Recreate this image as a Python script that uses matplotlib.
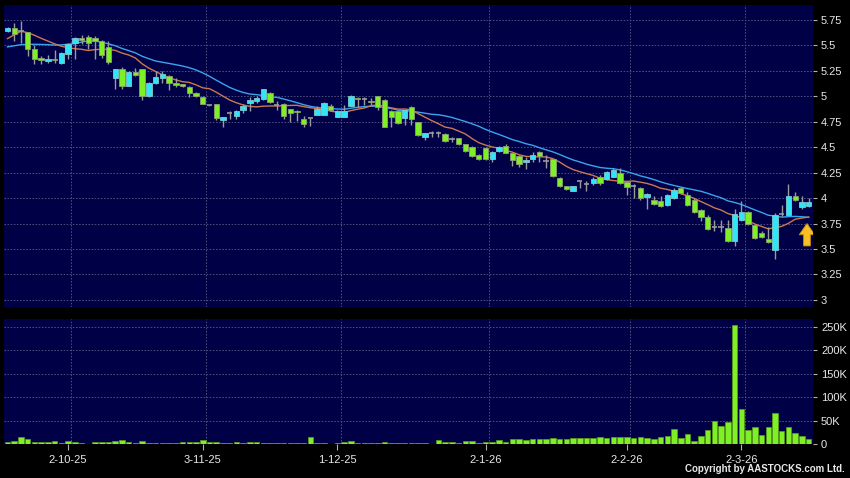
import numpy as np
import pandas as pd
import matplotlib
matplotlib.use("Agg")
import matplotlib.pyplot as plt

plt.rcParams['font.family'] = ['Liberation Sans', 'DejaVu Sans']

# Daily candles (120 trading days)
open_ = [5.64, 5.67, 5.64, 5.63, 5.46, 5.375, 5.35, 5.37, 5.33, 5.42,
         5.52, 5.57, 5.58, 5.575, 5.54, 5.48, 5.18, 5.27, 5.10, 5.24,
         5.27, 5.00, 5.13, 5.18, 5.20, 5.13, 5.12, 5.09, 5.03, 4.99,
         4.91, 4.92, 4.77, 4.84, 4.81, 4.87, 4.93, 4.955, 4.97, 5.03,
         4.91, 4.92, 4.875, 4.86, 4.78, 4.79, 4.82, 4.82, 4.90, 4.80,
         4.80, 4.90, 4.98, 4.975, 4.955, 5.00, 4.96, 4.86, 4.86, 4.79,
         4.89, 4.75, 4.60, 4.635, 4.635, 4.63, 4.58, 4.59, 4.53, 4.50,
         4.42, 4.49, 4.385, 4.46, 4.515, 4.44, 4.41, 4.35, 4.38, 4.45,
         4.36, 4.38, 4.20, 4.12, 4.07, 4.165, 4.14, 4.145, 4.21, 4.19,
         4.21, 4.25, 4.155, 4.12, 4.10, 4.01, 3.985, 3.97, 3.93, 4.00,
         4.10, 4.03, 3.985, 3.88, 3.81, 3.72, 3.72, 3.71, 3.575, 3.78,
         3.86, 3.74, 3.66, 3.60, 3.49, 3.84, 3.83, 4.02, 3.91, 3.92]
high = [5.68, 5.72, 5.74, 5.63, 5.50, 5.40, 5.41, 5.45, 5.44, 5.52,
        5.58, 5.60, 5.60, 5.59, 5.55, 5.54, 5.27, 5.29, 5.25, 5.28,
        5.27, 5.14, 5.25, 5.25, 5.21, 5.18, 5.12, 5.10, 5.04, 5.00,
        4.91, 4.92, 4.80, 4.86, 4.87, 4.92, 4.99, 5.00, 5.07, 5.04,
        4.95, 4.93, 4.88, 4.87, 4.81, 4.79, 4.90, 4.94, 4.92, 4.87,
        4.91, 5.01, 4.99, 4.99, 4.98, 5.00, 4.97, 4.87, 4.87, 4.87,
        4.90, 4.75, 4.64, 4.66, 4.66, 4.64, 4.60, 4.59, 4.53, 4.51,
        4.43, 4.50, 4.46, 4.51, 4.53, 4.44, 4.42, 4.40, 4.45, 4.46,
        4.42, 4.38, 4.21, 4.12, 4.12, 4.17, 4.17, 4.21, 4.23, 4.27,
        4.30, 4.30, 4.16, 4.14, 4.11, 4.05, 4.02, 4.02, 4.04, 4.10,
        4.11, 4.06, 4.00, 3.89, 3.83, 3.78, 3.78, 3.78, 3.89, 3.97,
        3.87, 3.75, 3.68, 3.72, 3.85, 3.93, 4.14, 4.06, 4.02, 4.00]
low = [5.63, 5.54, 5.52, 5.40, 5.32, 5.32, 5.33, 5.33, 5.32, 5.37,
       5.37, 5.51, 5.46, 5.37, 5.38, 5.32, 5.07, 5.07, 5.10, 5.20,
       4.96, 4.99, 5.12, 5.13, 5.06, 5.09, 5.09, 4.99, 4.99, 4.92,
       4.90, 4.77, 4.70, 4.78, 4.78, 4.84, 4.86, 4.93, 4.96, 4.93,
       4.87, 4.78, 4.75, 4.76, 4.70, 4.71, 4.82, 4.82, 4.86, 4.80,
       4.80, 4.90, 4.89, 4.91, 4.91, 4.87, 4.70, 4.70, 4.73, 4.72,
       4.72, 4.61, 4.57, 4.60, 4.60, 4.55, 4.55, 4.52, 4.45, 4.40,
       4.37, 4.37, 4.35, 4.45, 4.44, 4.32, 4.31, 4.29, 4.35, 4.35,
       4.30, 4.21, 4.11, 4.08, 4.07, 4.10, 4.07, 4.13, 4.13, 4.18,
       4.21, 4.14, 4.03, 4.00, 3.98, 3.89, 3.93, 3.91, 3.92, 3.99,
       4.04, 3.92, 3.85, 3.77, 3.69, 3.68, 3.67, 3.57, 3.53, 3.77,
       3.74, 3.60, 3.61, 3.56, 3.40, 3.82, 3.83, 3.97, 3.89, 3.91]
close = [5.67, 5.61, 5.64, 5.46, 5.37, 5.355, 5.37, 5.36, 5.43, 5.51,
         5.57, 5.555, 5.52, 5.545, 5.41, 5.34, 5.27, 5.10, 5.24, 5.21,
         5.00, 5.13, 5.19, 5.22, 5.13, 5.115, 5.10, 5.03, 5.00, 4.92,
         4.91, 4.79, 4.80, 4.84, 4.86, 4.90, 4.96, 4.98, 5.07, 4.94,
         4.91, 4.81, 4.835, 4.85, 4.73, 4.79, 4.875, 4.93, 4.865, 4.86,
         4.86, 5.00, 4.97, 4.975, 4.945, 4.89, 4.70, 4.80, 4.74, 4.87,
         4.78, 4.62, 4.635, 4.635, 4.635, 4.56, 4.58, 4.53, 4.46, 4.41,
         4.38, 4.38, 4.455, 4.505, 4.44, 4.37, 4.33, 4.37, 4.42, 4.41,
         4.36, 4.22, 4.12, 4.085, 4.115, 4.165, 4.14, 4.19, 4.15, 4.26,
         4.28, 4.15, 4.11, 4.12, 4.00, 4.04, 3.94, 3.92, 4.03, 4.08,
         4.05, 3.93, 3.86, 3.81, 3.70, 3.72, 3.72, 3.58, 3.845, 3.86,
         3.75, 3.61, 3.62, 3.57, 3.83, 3.84, 4.02, 3.98, 3.96, 3.96]
# closes before the visible window, used only to seed the moving averages
prior_close = [5.38, 5.42, 5.40, 5.36, 5.39, 5.41, 5.43, 5.40, 5.38, 5.46,
               5.24, 5.29, 5.60, 5.62, 5.66, 5.64, 5.63, 5.67, 5.65]
volume_k = [5, 6.5, 14, 11.5, 5, 5, 3.5, 7, 2, 6.5,
            3.5, 2, 1, 5, 5, 5, 6.5, 8.5, 4.5, 1.5,
            7, 3, 3, 3, 3, 3, 4.5, 4.5, 4.5, 8.5,
            3.5, 4.5, 3, 3, 4.5, 3, 3.5, 3.5, 3, 3,
            3, 3, 2, 2, 2, 15.7, 3, 2, 1, 1.5,
            3.5, 7, 2.5, 1.5, 1.5, 2, 4.5, 2, 2, 3,
            3, 2, 1.5, 1, 7.9, 3.6, 3.6, 1.4, 5.7, 6.4,
            2, 5, 5, 8.6, 4.3, 10, 10, 9.3, 11.4, 11.4,
            11.4, 12.9, 10.7, 11.4, 12, 12, 13, 13, 15.7, 13.6,
            14.3, 15, 14.3, 13.6, 15.7, 13.6, 10.7, 15.7, 17.9, 32,
            13.6, 22, 5.7, 17.9, 30, 49, 38.6, 46.5, 254, 75,
            30, 35.8, 19.3, 36.5, 65.8, 27, 36.5, 23, 18, 10]

date_labels = ['2-10-25', '3-11-25', '1-12-25', '2-1-26', '2-2-26', '2-3-26']
date_index = [9, 29, 49, 71, 92, 109]
price_ticks = [3, 3.25, 3.5, 3.75, 4, 4.25, 4.5, 4.75, 5, 5.25, 5.5, 5.75]
vol_ticks = [0, 50, 100, 150, 200, 250]

o = np.array(open_); h = np.array(high); l = np.array(low); c = np.array(close)
vol = np.array(volume_k) * 1000
x = np.arange(len(c))
allc = pd.Series(prior_close + close)
ma10 = allc.rolling(10).mean().values[-len(c):]
ma20 = allc.rolling(20).mean().values[-len(c):]

BG = '#000046'
GRID = '#4e4e82'
DASH = (0, (1.6, 1.6))
UP = '#30e6f6'
DN = '#80f026'
TXT = '#e8e8e8'

fig = plt.figure(figsize=(8.5, 4.78), dpi=100, facecolor='black')
ax = fig.add_axes([4/850, 1-307/478, 808.7/850, 302/478], facecolor=BG)
axv = fig.add_axes([4/850, 1-444/478, 808.7/850, 125/478], facecolor=BG)

for a in (ax, axv):
    a.set_xlim(-0.52, 119.6)
    for s in a.spines.values():
        s.set_visible(False)
    a.yaxis.tick_right()
    a.tick_params(axis='y', colors='#b0b0b0', labelcolor=TXT, length=3, pad=3,
                  labelsize=8)
    for xi in date_index:
        a.axvline(xi + 0.5, color=GRID, lw=0.7, ls=DASH, zorder=0)

# price panel
ax.set_ylim(2.93, 5.897)
ax.set_yticks(price_ticks)
ax.set_yticklabels(['%g' % t for t in price_ticks])
ax.set_xticks([])
for t in price_ticks:
    ax.axhline(t, color=GRID, lw=0.7, ls=DASH, zorder=0)

ax.plot(x, ma20, color='#3aa4ec', lw=1.0, zorder=2)
ax.plot(x, ma10, color='#cc7850', lw=1.0, zorder=2)

ax.vlines(x, l, h, color='#9a9a9a', lw=1, zorder=3)
up = c > o
dn = c < o
dj = c == o
ax.bar(x[up], (c - o)[up], bottom=o[up], width=0.8, color=UP,
       edgecolor='#80c8d0', linewidth=0.6, zorder=4)
ax.bar(x[dn], (o - c)[dn], bottom=c[dn], width=0.8, color=DN,
       edgecolor='#8ca070', linewidth=0.6, zorder=4)
ax.hlines(c[dj], x[dj] - 0.4, x[dj] + 0.4, color='#9a9a9a', lw=1.2, zorder=4)

# yellow arrow near the last candle
ax.arrow(118.75, 3.53, 0, 0.22, width=1.0, head_width=2.3, head_length=0.11,
         length_includes_head=True, fc='#f8c020', ec='#c89010', lw=0.6, zorder=5)

# volume panel
axv.set_ylim(0, 267000)
axv.set_yticks([v * 1000 for v in vol_ticks])
axv.set_yticklabels(['0' if v == 0 else '%dK' % v for v in vol_ticks])
for v in vol_ticks[1:]:
    axv.axhline(v * 1000, color=GRID, lw=0.7, ls=DASH, zorder=0)
axv.bar(x, vol, width=0.82, color=DN, edgecolor='#5ca018', linewidth=0.5, zorder=3)
axv.set_xticks(date_index)
axv.set_xticklabels(date_labels)
axv.tick_params(axis='x', colors='#b0b0b0', labelcolor=TXT, length=4, pad=4,
                labelsize=8)

fig.text(0.994, 0.008, 'Copyright by AASTOCKS.com Ltd.', color=TXT,
         fontsize=7, fontweight='bold', ha='right', va='bottom')

fig.savefig('out.png', dpi=100, facecolor='black')
